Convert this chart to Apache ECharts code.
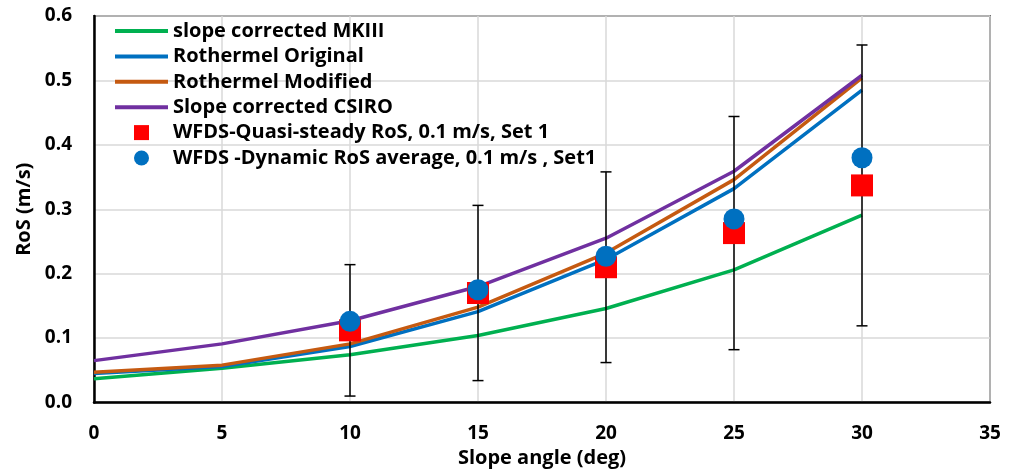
<!DOCTYPE html>
<html>
<head>
<meta charset="utf-8">
<script src="https://cdn.jsdelivr.net/npm/echarts@6/dist/echarts.min.js"></script>
<style>
  html, body { margin: 0; padding: 0; background: #fff; }
  #chart { width: 1016px; height: 475px; }
</style>
</head>
<body>
<div id="chart"></div>
<script>
// Slope angle (deg)
const slopeAngles = [0, 5, 10, 15, 20, 25, 30];
// Model rate of spread curves (m/s)
const mk3Corrected = [0.037, 0.053, 0.074, 0.104, 0.146, 0.206, 0.291];
const rothermelOriginal = [0.045, 0.056, 0.087, 0.141, 0.222, 0.332, 0.485];
const rothermelModified = [0.047, 0.058, 0.091, 0.148, 0.232, 0.346, 0.504];
const csiroCorrected = [0.065, 0.091, 0.127, 0.180, 0.255, 0.359, 0.508];
// WFDS results
const wfdsAngles = [10, 15, 20, 25, 30];
const quasiSteady = [0.112, 0.170, 0.210, 0.263, 0.337];
const quasiSteadyErr = [0.102, 0.136, 0.148, 0.181, 0.218];
const dynamicAvg = [0.126, 0.175, 0.227, 0.285, 0.380];

const seriesNames = [
  'slope corrected MKIII',
  'Rothermel Original',
  'Rothermel Modified',
  'Slope corrected CSIRO',
  'WFDS-Quasi-steady RoS, 0.1 m/s, Set 1',
  'WFDS -Dynamic RoS average, 0.1 m/s , Set1'
];

const FONT = '"Open Sans"';
const pair = (xs, ys) => xs.map((x, i) => [x, ys[i]]);

// legend icons: a thick bar for the model curves, a square for the quasi-steady points
const barIcon = 'path://M0,0H53V4H0Z';
const squareIcon = 'path://M0,0H10V10H0Z';

function lineSeries(name, values, color) {
  return {
    name: name,
    type: 'line',
    data: pair(slopeAngles, values),
    symbol: 'none',
    lineStyle: { color: color, width: 3.5 },
    itemStyle: { color: color },
    z: 2
  };
}

const errorData = wfdsAngles.map((x, i) => [x, quasiSteady[i] - quasiSteadyErr[i], quasiSteady[i] + quasiSteadyErr[i]]);

const chart = echarts.init(document.getElementById('chart'), null, { renderer: 'canvas' });

chart.setOption({
  animation: false,
  backgroundColor: '#fff',
  grid: {
    left: 94, right: 26, top: 16, bottom: 72.5,
    show: true, borderColor: '#000', borderWidth: 1.5, backgroundColor: 'transparent'
  },
  legend: {
    orient: 'vertical',
    left: 115, top: 21,
    padding: 0,
    itemWidth: 53, itemHeight: 15,
    itemGap: 5.4,
    symbolKeepAspect: true,
    data: [
      { name: seriesNames[0], icon: barIcon },
      { name: seriesNames[1], icon: barIcon },
      { name: seriesNames[2], icon: barIcon },
      { name: seriesNames[3], icon: barIcon },
      { name: seriesNames[4], icon: squareIcon },
      { name: seriesNames[5], icon: 'circle' }
    ],
    textStyle: { fontFamily: FONT, fontWeight: 'bold', fontSize: 20, color: '#000', lineHeight: 20 }
  },
  xAxis: {
    type: 'value', min: 0, max: 35, interval: 5,
    name: 'Slope angle (deg)', nameLocation: 'middle', nameGap: 44,
    nameTextStyle: { fontFamily: FONT, fontWeight: 'bold', fontSize: 20, color: '#000' },
    axisLine: { show: true, onZero: false, lineStyle: { color: '#000', width: 2.5 } },
    axisTick: { show: false },
    axisLabel: { fontFamily: FONT, fontWeight: 'bold', fontSize: 19, color: '#000', margin: 22 },
    splitLine: { show: true, lineStyle: { color: '#d9d9d9', width: 1.5 } }
  },
  yAxis: {
    type: 'value', min: 0, max: 0.6, interval: 0.1,
    name: 'RoS (m/s)', nameLocation: 'middle', nameGap: 59,
    nameTextStyle: { fontFamily: FONT, fontWeight: 'bold', fontSize: 20, color: '#000' },
    axisLine: { show: true, lineStyle: { color: '#000', width: 2.5 } },
    axisTick: { show: false },
    axisLabel: {
      fontFamily: FONT, fontWeight: 'bold', fontSize: 19, color: '#000', margin: 22,
      formatter: v => v.toFixed(1)
    },
    splitLine: { show: true, lineStyle: { color: '#d9d9d9', width: 1.5 } }
  },
  series: [
    lineSeries(seriesNames[0], mk3Corrected, '#00B050'),
    lineSeries(seriesNames[1], rothermelOriginal, '#0070C0'),
    lineSeries(seriesNames[2], rothermelModified, '#C55A11'),
    lineSeries(seriesNames[3], csiroCorrected, '#7030A0'),
    {
      name: 'quasi-steady-error',
      type: 'custom',
      data: errorData,
      z: 3,
      silent: true,
      renderItem: function (params, api) {
        const x = api.value(0);
        const lo = api.coord([x, api.value(1)]);
        const hi = api.coord([x, api.value(2)]);
        const cap = 5.5;
        const style = { stroke: '#000', lineWidth: 1.5, fill: null };
        return {
          type: 'group',
          children: [
            { type: 'line', shape: { x1: lo[0], y1: lo[1], x2: hi[0], y2: hi[1] }, style: style },
            { type: 'line', shape: { x1: hi[0] - cap, y1: hi[1], x2: hi[0] + cap, y2: hi[1] }, style: style },
            { type: 'line', shape: { x1: lo[0] - cap, y1: lo[1], x2: lo[0] + cap, y2: lo[1] }, style: style }
          ]
        };
      }
    },
    {
      name: seriesNames[4],
      type: 'scatter',
      data: pair(wfdsAngles, quasiSteady),
      symbol: 'rect',
      symbolSize: 22,
      itemStyle: { color: '#FF0000', opacity: 1 },
      z: 4
    },
    {
      name: seriesNames[5],
      type: 'scatter',
      data: pair(wfdsAngles, dynamicAvg),
      symbol: 'circle',
      symbolSize: 21,
      itemStyle: { color: '#0070C0', opacity: 1 },
      z: 5
    }
  ]
});
</script>
</body>
</html>
